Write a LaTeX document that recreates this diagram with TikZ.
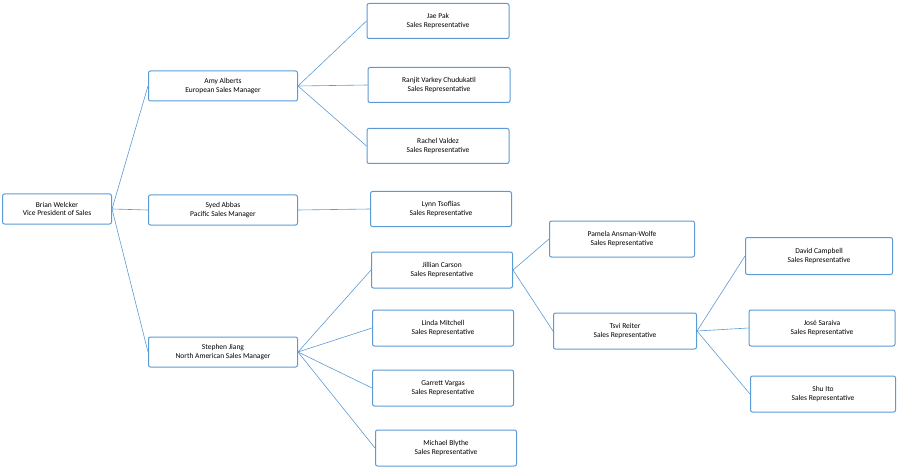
\documentclass[tikz,border=0pt]{standalone}
\usepackage{fontspec}
\setmainfont{Carlito}
\usetikzlibrary{positioning}
\definecolor{orgblue}{RGB}{91,155,213}

\begin{document}
\begin{tikzpicture}[x=1pt,y=-1pt,thick,
  person/.style={rectangle,rounded corners=2pt,draw=orgblue,line width=1pt,fill=white,
    minimum height=30pt,align=center,font=\fontsize{7.5}{8.5}\selectfont,inner sep=1pt},
  link/.style={draw=orgblue,line width=0.6pt}]

  \useasboundingbox (0,0) rectangle (900,468);

  \node[person,minimum width=109pt] (bw) at (57,209) {Brian Welcker\\Vice President of Sales};
  \node[person,minimum width=149pt] (aa) at (223,86) {Amy Alberts\\European Sales Manager};
  \node[person,minimum width=149pt] (sa) at (223,210) {Syed Abbas\\Pacific Sales Manager};
  \node[person,minimum width=149pt] (sj) at (223,352) {Stephen Jiang\\North American Sales Manager};

  \node[person,minimum width=142pt,minimum height=35pt] (jp) at (438,21) {Jae Pak\\Sales Representative};
  \node[person,minimum width=142pt,minimum height=35pt] (rc) at (439,85) {Ranjit Varkey Chudukatil\\Sales Representative};
  \node[person,minimum width=142pt,minimum height=35pt] (rv) at (438,146) {Rachel Valdez\\Sales Representative};
  \node[person,minimum width=141pt,minimum height=35pt] (lt) at (441,209) {Lynn Tsoflias\\Sales Representative};
  \node[person,minimum width=141pt,minimum height=36pt] (jc) at (442,270) {Jillian Carson\\Sales Representative};
  \node[person,minimum width=141pt,minimum height=36pt] (lm) at (443,328) {Linda Mitchell\\Sales Representative};
  \node[person,minimum width=141pt,minimum height=36pt] (gv) at (443,388) {Garrett Vargas\\Sales Representative};
  \node[person,minimum width=141pt,minimum height=36pt] (mb) at (446,448) {Michael Blythe\\Sales Representative};

  \node[person,minimum width=145pt,minimum height=36pt] (pa) at (622,239) {Pamela Ansman-Wolfe\\Sales Representative};
  \node[person,minimum width=143pt,minimum height=36pt] (tr) at (625,331) {Tsvi Reiter\\Sales Representative};

  \node[person,minimum width=147pt,minimum height=37pt] (dc) at (819,256) {David Campbell\\Sales Representative};
  \node[person,minimum width=146pt,minimum height=36pt] (js) at (822,328) {José Saraiva\\Sales Representative};
  \node[person,minimum width=145pt,minimum height=36pt] (si) at (823,394) {Shu Ito\\Sales Representative};

  \path[link]
    (bw.east) edge (aa.west)
    (bw.east) edge (sa.west)
    (bw.east) edge (sj.west)
    (aa.east) edge (jp.west)
    (aa.east) edge (rc.west)
    (aa.east) edge (rv.west)
    (sa.east) edge (lt.west)
    (sj.east) edge (jc.west)
    (sj.east) edge (lm.west)
    (sj.east) edge (gv.west)
    (sj.east) edge (mb.west)
    (jc.east) edge (pa.west)
    (jc.east) edge (tr.west)
    (tr.east) edge (dc.west)
    (tr.east) edge (js.west)
    (tr.east) edge (si.west);
\end{tikzpicture}
\end{document}
